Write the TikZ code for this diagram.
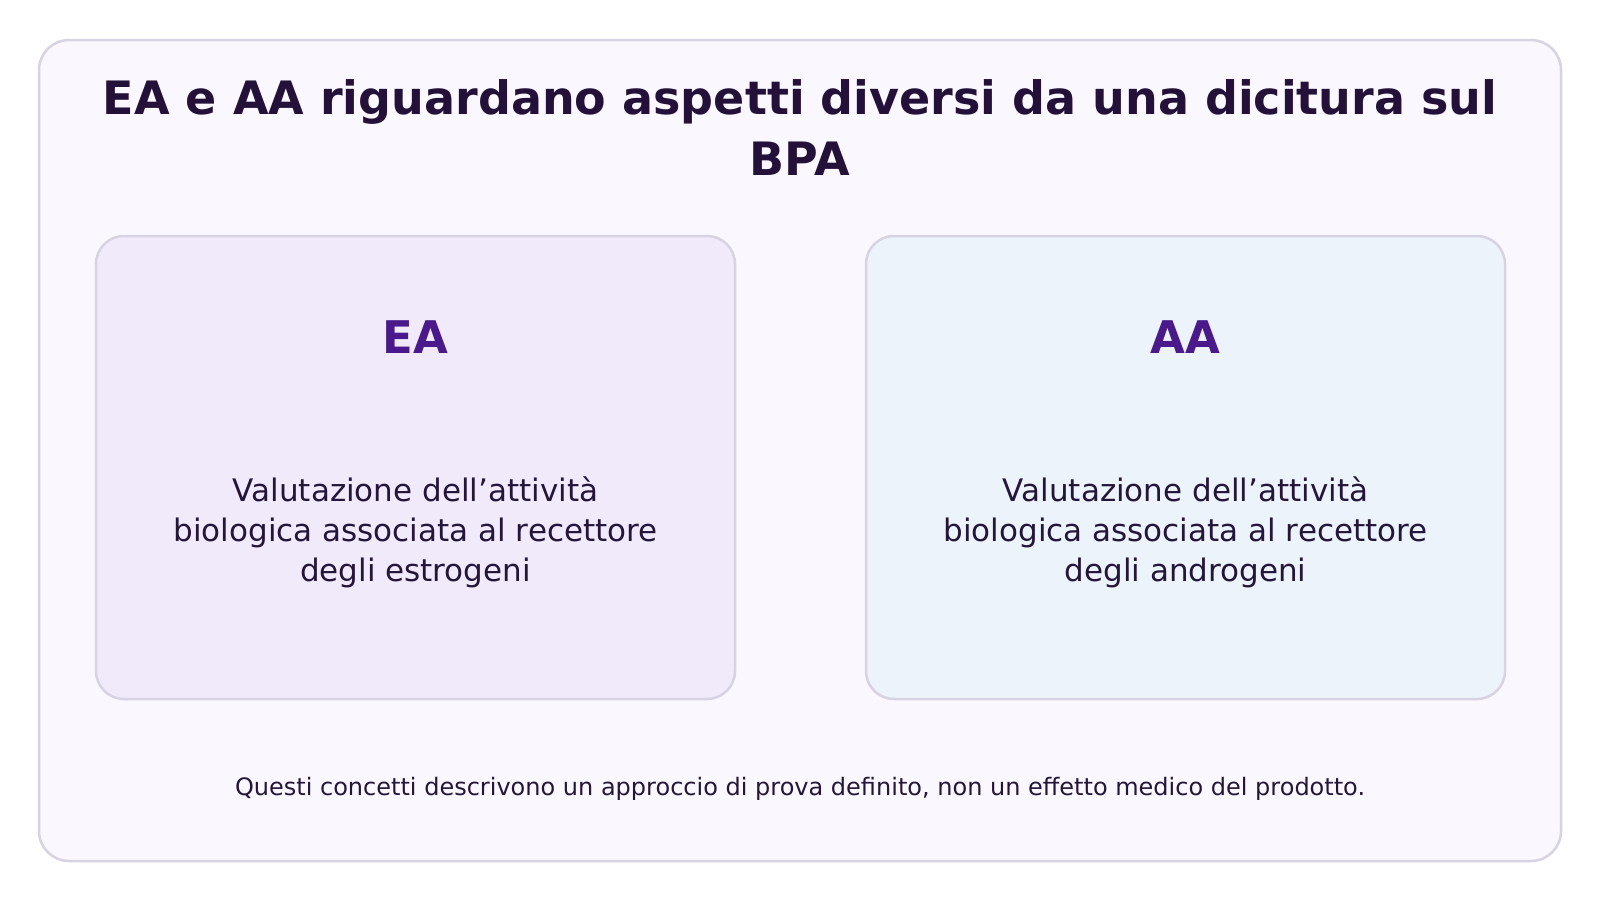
\documentclass[tikz,border=0pt]{standalone}
\usepackage{fontspec}
\setmainfont{DejaVu Sans}
\definecolor{framefill}{HTML}{FAF8FE}
\definecolor{framedraw}{HTML}{D8D3E3}
\definecolor{eafill}{HTML}{F1EAFA}
\definecolor{aafill}{HTML}{ECF3FB}
\definecolor{titlecol}{HTML}{24113A}
\definecolor{headcol}{HTML}{4A1A8C}
\definecolor{bodycol}{HTML}{24163A}
\begin{document}
\begin{tikzpicture}[x=1pt,y=1pt,
  panel/.style={draw=framedraw,line width=2.5pt,rounded corners=28pt},
  headtxt/.style={text=headcol,font=\fontsize{45}{52}\selectfont\bfseries},
  bodytxt/.style={text=bodycol,align=center,font=\fontsize{31}{40}\selectfont},
]
\useasboundingbox[fill=white] (0,0) rectangle (1600,-900);
\draw[panel,fill=framefill,rounded corners=30pt] (39,-40) rectangle (1561,-861);
\node[text=titlecol,align=center,font=\fontsize{46}{61}\selectfont\bfseries] (title) at (800,-128)
  {EA e AA riguardano aspetti diversi da una dicitura sul\\BPA};
\draw[panel,fill=eafill] (96,-236) rectangle (735,-699);
\draw[panel,fill=aafill] (866,-236) rectangle (1505,-699);
\node[headtxt] (ea) at (415.5,-337) {EA};
\node[headtxt] (aa) at (1185.5,-337) {AA};
\node[bodytxt] (eab) at (415.5,-532) {Valutazione dell’attività\\biologica associata al recettore\\degli estrogeni};
\node[bodytxt] (aab) at (1185.5,-532) {Valutazione dell’attività\\biologica associata al recettore\\degli androgeni};
\node[text=bodycol,font=\fontsize{24}{29}\selectfont] (foot) at (800,-789)
  {Questi concetti descrivono un approccio di prova definito, non un effetto medico del prodotto.};
\end{tikzpicture}
\end{document}
